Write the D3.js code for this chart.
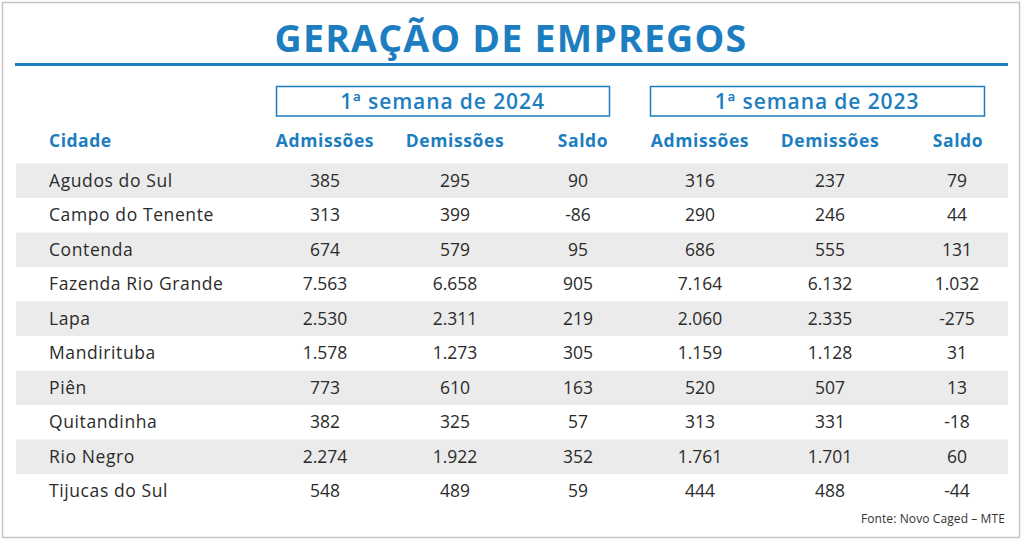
<!DOCTYPE html>
<html><head><meta charset="utf-8">
<script src="https://cdn.jsdelivr.net/npm/d3@7"></script>
<style>html,body{margin:0;padding:0;background:#fff;}svg{display:block;}</style>
</head><body>
<svg id="chart" width="1024" height="543"></svg>
<script>
const title = "GERAÇÃO DE EMPREGOS";
const groups = ["1ª semana de 2024", "1ª semana de 2023"];
const columns = ["Admissões", "Demissões", "Saldo", "Admissões", "Demissões", "Saldo"];
const cities = ["Agudos do Sul","Campo do Tenente","Contenda","Fazenda Rio Grande","Lapa","Mandirituba","Piên","Quitandinha","Rio Negro","Tijucas do Sul"];
const adm2024 = [385,313,674,7563,2530,1578,773,382,2274,548];
const dem2024 = [295,399,579,6658,2311,1273,610,325,1922,489];
const saldo2024 = [90,-86,95,905,219,305,163,57,352,59];
const adm2023 = [316,290,686,7164,2060,1159,520,313,1761,444];
const dem2023 = [237,246,555,6132,2335,1128,507,331,1701,488];
const saldo2023 = [79,44,131,1032,-275,31,13,-18,60,-44];
const source = "Fonte: Novo Caged – MTE";

const blue = "#1c7ec0";
const font = "'Open Sans', sans-serif";
const svg = d3.select("#chart");
const loc = d3.formatLocale({decimal:",", thousands:".", grouping:[3], currency:["R$",""], minus:"-"});
const fmt = loc.format(",d");

// frame
svg.append("rect").attr("x",2.5).attr("y",2.5).attr("width",1017).attr("height",535)
  .attr("fill","#fff").attr("stroke","#c4c4c4").attr("stroke-width",1.5);

// title
svg.append("text").attr("x",511).attr("y",52).attr("text-anchor","middle")
  .attr("font-family",font).attr("font-weight",700).attr("font-size",37.5)
  .attr("letter-spacing",1.2).attr("fill",blue).text(title);
svg.append("line").attr("x1",15).attr("x2",1008).attr("y1",64.5).attr("y2",64.5)
  .attr("stroke",blue).attr("stroke-width",3);

// rows
const y = d3.scaleBand().domain(d3.range(cities.length)).range([163.5, 508.5]).padding(0);
const colX = d3.scaleOrdinal().domain(d3.range(6)).range([325, 455, 578, 700, 830, 957]);
const headX = [325, 455, 583, 700, 830, 958];

svg.selectAll("rect.band").data(d3.range(cities.length).filter(i => i % 2 === 0)).join("rect")
  .attr("class","band").attr("x",16).attr("width",992)
  .attr("y", i => y(i)).attr("height", y.bandwidth()).attr("fill","#ebebeb");

// group boxes
const gx = d3.scaleOrdinal().domain([0,1]).range([[276,609],[650,984]]);
groups.forEach((g,i) => {
  const [a,b] = gx(i);
  svg.append("rect").attr("x",a+0.5).attr("y",86.5).attr("width",b-a).attr("height",29.5)
    .attr("fill","none").attr("stroke",blue).attr("stroke-width",1.5);
  svg.append("text").attr("x",(a+b)/2).attr("y",108.5).attr("text-anchor","middle")
    .attr("font-family",font).attr("font-weight",600).attr("font-size",21)
    .attr("letter-spacing",0.9).attr("fill",blue).text(g);
});

// header
svg.append("text").attr("x",49).attr("y",147).attr("font-family",font).attr("font-weight",700)
  .attr("font-size",17.5).attr("letter-spacing",0.5).attr("fill",blue).text("Cidade");
columns.forEach((c,i) => {
  svg.append("text").attr("x",headX[i]).attr("y",147).attr("text-anchor","middle")
    .attr("font-family",font).attr("font-weight",700).attr("font-size",17.5)
    .attr("letter-spacing",0.6).attr("fill",blue).text(c);
});

const series = [adm2024, dem2024, saldo2024, adm2023, dem2023, saldo2023];
const rows = svg.selectAll("g.row").data(cities).join("g").attr("class","row")
  .attr("transform",(d,i) => `translate(0,${y(i) + y.bandwidth()/2 + 6})`);
rows.append("text").attr("x",49).attr("font-family",font).attr("font-size",17.5)
  .attr("letter-spacing",0.6).attr("fill","#2b2b2b").text(d => d);
series.forEach((s,j) => {
  rows.append("text").attr("x",colX(j)).attr("text-anchor","middle")
    .attr("font-family",font).attr("font-size",17.5).attr("fill","#2b2b2b")
    .text((d,i) => fmt(s[i]));
});

svg.append("text").attr("x",1005).attr("y",523).attr("text-anchor","end")
  .attr("font-family",font).attr("font-size",12).attr("letter-spacing",0.1)
  .attr("fill","#333").text(source);
</script>
</body></html>
